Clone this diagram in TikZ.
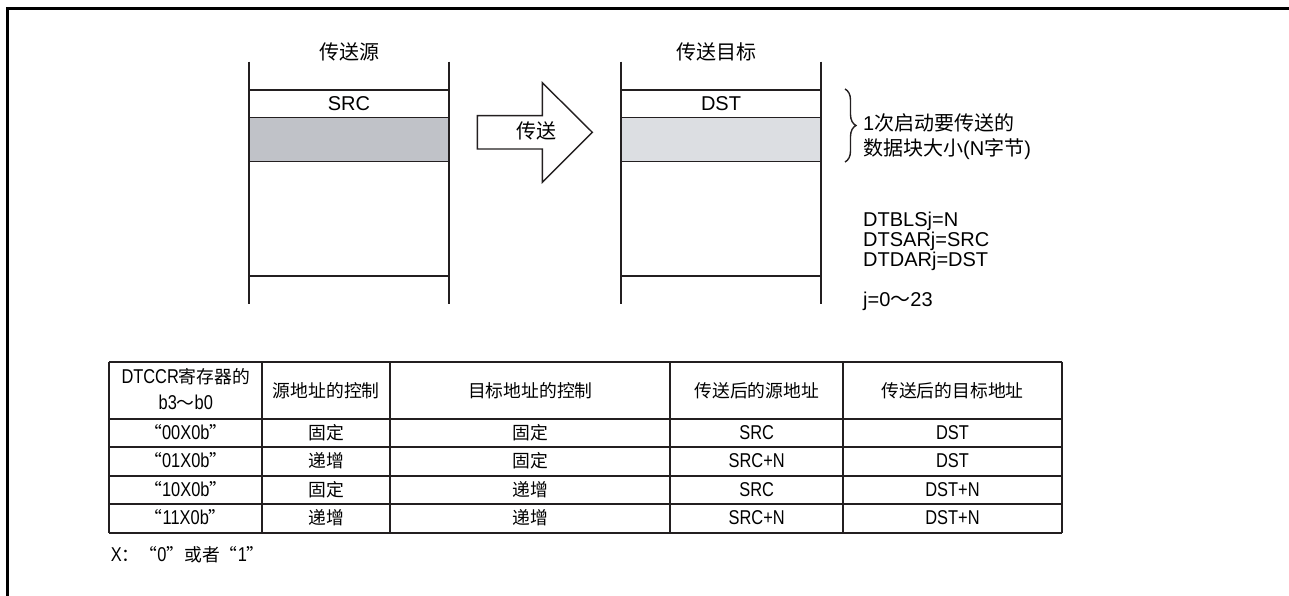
\documentclass[tikz,border=0pt]{standalone}
\usepackage{fontspec}
\setmainfont{Liberation Sans}
\newfontfamily\cjk{Noto Sans CJK SC}
\newfontfamily\cjkfw[RawFeature=+fwid]{Noto Sans CJK SC}
\newfontfamily\tabfont[FakeStretch=0.82]{Liberation Sans}
\usetikzlibrary{decorations.pathreplacing}
\definecolor{myline}{RGB}{35,31,32}
\definecolor{srcgray}{RGB}{192,194,200}
\definecolor{dstgray}{RGB}{220,222,226}
\newcommand{\zh}[1]{{\cjk #1}}
\newcommand{\tzh}[1]{{\fontsize{17.8}{18}\cjk #1}}
\newcommand{\tfw}[1]{{\fontsize{17.8}{18}\cjkfw #1}}
\tikzset{
  memline/.style={line width=1.4pt, myline},
  tabline/.style={line width=1.9pt, myline},
  toptext/.style={font=\fontsize{20}{20}\selectfont, inner sep=0pt, anchor=base},
  tabtext/.style={font=\fontsize{20}{20}\tabfont, inner sep=0pt, anchor=base}
}

\begin{document}
\begin{tikzpicture}[x=1pt,y=-1pt]
  \useasboundingbox (0,0) rectangle (1289,596);
  %The frame on top and left:
  \draw[line width=3.3pt, black] (7.3,596) -- (7.3,8.3) -- (1289,8.3);

  %The two memory areas:
  \foreach \x/\fillc/\lbl [count=\i] in {249/srcgray/SRC, 621/dstgray/DST}{
    \fill[\fillc] (\x,117.7) rectangle (\x+200,161.7);
    \draw[memline] (\x,61.7) -- (\x,304) (\x+200,61.7) -- (\x+200,304);
    \foreach \y in {90,117.7,161.7,276}
      \draw[memline] (\x,\y) -- (\x+200,\y);
    \node[toptext] (area\i) at (\x+100,111) {\lbl};
  }
  \node[toptext] (srctitle) at (349,59.5) {\zh{传送源}};
  \node[toptext] (dsttitle) at (716,59.5) {\zh{传送目标}};

  %The big arrow with its label:
  \draw[memline, fill=white] (477.3,115.7) -- (542.3,115.7) -- (542.3,82.7) -- (592.3,132.3)
    -- (542.3,182.3) -- (542.3,149) -- (477.3,149) -- cycle;
  \node[toptext] (xfer) at (536.7,139) {\zh{传送}};

  %The brace and the notes on the right:
  \draw[memline, decorate, decoration={brace, amplitude=11pt}] (845,89) -- (845,162);
  \node[toptext, anchor=base west] (size1) at (863,130.4) {1\zh{次启动要传送的}};
  \node[toptext, anchor=base west] (size2) at (863,156) {\zh{数据块大小}(N\zh{字节})};
  \node[toptext, anchor=base west] (reg1) at (863,226.7) {DTBLSj=N};
  \node[toptext, anchor=base west] (reg2) at (863,246.7) {DTSARj=SRC};
  \node[toptext, anchor=base west] (reg3) at (863,266.7) {DTDARj=DST};
  \node[toptext, anchor=base west] (jrange) at (863,306.7) {j=0\zh{～}23};

  %The table:
  \foreach \x in {109.3,262.3,390.3,670.3,843,1062}
    \draw[tabline] (\x,361.7) -- (\x,532.7);
  \foreach \y in {361.7,418.7,447.3,475.7,504.3,532.7}
    \draw[tabline] (109.3,\y) -- (1062,\y);
  \node[tabtext] (head1a) at (185.8,383.5) {DTCCR\tzh{寄存器的}};
  \node[tabtext] (head1b) at (185.8,409.3) {b3\tzh{～}b0};
  \node[tabtext] (head2) at (326.3,397.6) {\tzh{源地址的控制}};
  \node[tabtext] (head3) at (530.3,397.6) {\tzh{目标地址的控制}};
  \node[tabtext] (head4) at (756.7,397.6) {\tzh{传送后的源地址}};
  \node[tabtext] (head5) at (952.5,397.6) {\tzh{传送后的目标地址}};
  \foreach \y/\bits/\sctl/\dctl/\snew/\dnew [count=\r] in {439/00/固定/固定/SRC/DST,
      467.3/01/递增/固定/SRC+N/DST, 496/10/固定/递增/SRC/DST+N, 524/11/递增/递增/SRC+N/DST+N}{
    \node[tabtext] (bits\r) at (185.8,\y) {\tfw{“}\bits X0b\tfw{”}};
    \node[tabtext] (sctl\r) at (326.3,\y) {\tzh{\sctl}};
    \node[tabtext] (dctl\r) at (530.3,\y) {\tzh{\dctl}};
    \node[tabtext] (snew\r) at (756.7,\y) {\snew};
    \node[tabtext] (dnew\r) at (952.5,\y) {\dnew};
  }
  \node[tabtext, anchor=base west] (xnote) at (110.7,561.7) {X\tfw{：“}0\tfw{”}\tzh{或者}\tfw{“}1\tfw{”}};
\end{tikzpicture}
\end{document}
